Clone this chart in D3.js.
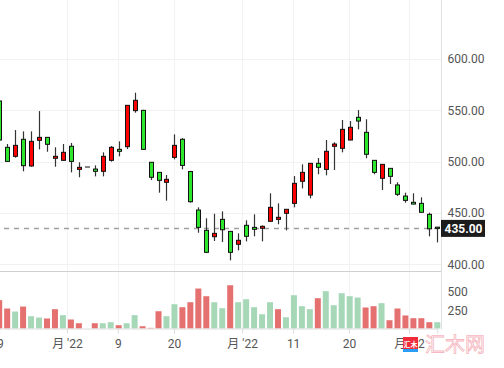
<!DOCTYPE html>
<html>
<head>
<meta charset="utf-8">
<script src="https://cdn.jsdelivr.net/npm/d3@7"></script>
<style>
	html, body { margin: 0; padding: 0; background: #fff; }
	#app { width: 504px; height: 368px; overflow: hidden; }
	text { font-family: Roboto, 'Noto Sans CJK SC', sans-serif; }
</style>
</head>
<body>
<div id="app"></div>
<script>
// daily candles, oldest first
const opens = [559.1, 514.0, 505.2, 521.8, 495.8, 520.8, 523.7, 503.3, 501.3, 515.0, 492.5, 494.8, 492.8, 490.6, 501.3, 512.0,
	514.6, 549.7, 550.0, 499.4, 489.6, 479.9, 504.2, 521.8, 490.4, 452.9, 433.1, 426.9, 443.8, 432.1, 419.5, 438.0,
	436.0, 435.1, 441.9, 443.8, 449.7, 459.4, 480.9, 467.5, 498.4, 492.5, 515.0, 513.0, 521.1, 543.2, 528.6, 501.3,
	483.8, 493.5, 477.3, 466.5, 460.4, 459.4, 448.7, 436.2];
const highs = [560.0, 517.2, 530.8, 529.5, 529.5, 549.3, 523.9, 514.0, 517.2, 518.2, 499.4, 494.8, 496.4, 509.1, 515.2, 519.8,
	554.9, 567.2, 550.5, 499.6, 489.8, 487.0, 526.6, 523.0, 491.0, 455.5, 444.8, 449.3, 451.6, 432.5, 430.2, 442.9,
	448.7, 438.0, 469.2, 459.4, 453.8, 486.0, 497.4, 498.6, 503.6, 521.1, 518.9, 540.6, 539.6, 550.3, 541.3, 501.5,
	497.6, 493.7, 479.9, 469.8, 469.2, 465.3, 450.3, 436.3];
const lows = [520.5, 499.7, 503.9, 490.6, 495.1, 512.0, 509.7, 495.1, 501.0, 489.6, 484.8, 494.8, 485.7, 485.7, 500.0, 505.2,
	512.3, 547.7, 511.5, 482.1, 469.8, 462.0, 502.3, 492.5, 460.0, 430.8, 411.0, 422.7, 421.7, 403.9, 413.6, 422.4,
	427.3, 422.4, 441.5, 439.0, 433.1, 455.5, 474.0, 464.3, 487.7, 486.7, 491.9, 509.1, 520.9, 531.5, 503.3, 487.7,
	472.4, 478.2, 466.5, 460.0, 458.5, 450.5, 427.3, 421.4];
const closes = [521.1, 500.3, 515.9, 496.1, 519.8, 523.7, 516.9, 505.2, 509.1, 500.3, 494.5, 494.8, 490.6, 505.2, 514.0, 510.1,
	554.9, 559.8, 512.0, 484.8, 481.8, 482.8, 515.9, 496.4, 461.0, 436.0, 411.7, 430.2, 433.7, 411.7, 423.4, 427.3,
	434.1, 437.0, 455.5, 445.8, 453.6, 478.9, 489.6, 498.4, 494.5, 510.1, 517.2, 531.5, 533.5, 539.6, 507.2, 489.6,
	497.4, 485.7, 468.2, 462.3, 458.7, 450.7, 434.6, 435.0];
const volumes = [387, 273, 232, 300, 168, 150, 137, 264, 182, 123, 72, 0, 72, 72, 86, 45,
	72, 182, 31, 9, 236, 168, 332, 291, 359, 546, 441, 359, 277, 591, 359, 400,
	291, 195, 359, 264, 154, 455, 305, 264, 414, 510, 318, 482, 441, 423, 287, 305,
	346, 113, 273, 178, 141, 141, 86, 86];
const prevClose = 530;
const lastPrice = 435.00;

// time axis marks, in candle index units
const dateTicks = [-0.35, 8.5, 14.9, 21.95, 30.5, 36.9, 43.9, 51.45];
const dateLabels = ['29', "月 '22", '9', '20', "月 '22", '11', '20', "月 '22"];
const priceTicks = [400, 450, 500, 550, 600];
const volumeTicks = [250, 500];

(function () {

	function init () {
		initGraph();
	}

	function initGraph () {

		let app = d3.select('#app'),
			outerWidth = 504,
			outerHeight = 368,
			plotRight = 441.5,
			priceBottom = 271,
			volBottom = 328.5,
			fontSize = 12;

		let svg = app.append('svg')
			.attr('width', outerWidth)
			.attr('height', outerHeight);

		let data = closes.map(function (c, i) {
			return {
				i: i,
				o: opens[i],
				h: highs[i],
				l: lows[i],
				c: c,
				v: volumes[i],
				prev: i === 0 ? prevClose : closes[i - 1]
			};
		});

		let x = d3.scaleLinear()
			.domain([0, data.length - 1])
			.range([-0.8, 437.3]);

		let y = d3.scaleLinear()
			.domain([393.5, 657.5])
			.range([priceBottom, 0]);

		let yv = d3.scaleLinear()
			.domain([0, 780])
			.range([volBottom, 271.4]);

		// grid
		svg.append('g')
			.attr('stroke', '#f2f2f2')
		.selectAll('line')
		.data(priceTicks)
		.enter().append('line')
			.attr('x1', 0)
			.attr('x2', plotRight)
			.attr('y1', function (d) { return Math.round(y(d)) + 0.5; })
			.attr('y2', function (d) { return Math.round(y(d)) + 0.5; });

		svg.append('g')
			.attr('stroke', '#f2f2f2')
		.selectAll('line')
		.data(dateTicks)
		.enter().append('line')
			.attr('x1', function (d) { return Math.round(x(d)) + 0.5; })
			.attr('x2', function (d) { return Math.round(x(d)) + 0.5; })
			.attr('y1', 0)
			.attr('y2', volBottom);

		// frame lines
		svg.append('line')
			.attr('x1', 0).attr('x2', plotRight)
			.attr('y1', priceBottom + 0.5).attr('y2', priceBottom + 0.5)
			.attr('stroke', '#d0d0d0');
		svg.append('line')
			.attr('x1', plotRight).attr('x2', plotRight)
			.attr('y1', 0).attr('y2', volBottom + 1)
			.attr('stroke', '#e0e0e0');

		// volume pane
		svg.append('g')
		.selectAll('rect')
		.data(data.filter(function (d) { return d.v > 0; }))
		.enter().append('rect')
			.attr('x', function (d) { return x(d.i) - 3; })
			.attr('width', 6)
			.attr('y', function (d) { return yv(d.v); })
			.attr('height', function (d) { return volBottom - yv(d.v); })
			.attr('fill', function (d) { return d.c >= d.prev ? '#a6d8b8' : '#e57070'; });

		let xAxis = svg.append('g')
			.attr('transform', 'translate(0,' + volBottom + ')')
			.call(d3.axisBottom(x)
				.tickValues(dateTicks)
				.tickFormat(function (d, i) { return dateLabels[i]; })
				.tickSize(5)
				.tickPadding(6));
		xAxis.select('.domain').attr('stroke', '#dcdcdc');
		xAxis.selectAll('.tick line').attr('stroke', '#dcdcdc');
		xAxis.selectAll('.tick text')
			.attr('fill', '#555')
			.attr('font-size', fontSize)
			.attr('font-family', "Roboto, 'Noto Sans CJK SC', sans-serif");

		let vAxis = svg.append('g')
			.attr('transform', 'translate(' + plotRight + ',0)')
			.call(d3.axisRight(yv).tickValues(volumeTicks).tickSize(0).tickPadding(6));
		vAxis.select('.domain').remove();
		vAxis.selectAll('.tick text')
			.attr('fill', '#555')
			.attr('font-size', fontSize)
			.attr('font-family', 'Roboto, sans-serif');

		let pAxis = svg.append('g')
			.attr('transform', 'translate(' + plotRight + ',0)')
			.call(d3.axisRight(y).tickValues(priceTicks).tickFormat(d3.format('.2f')).tickSize(0).tickPadding(6));
		pAxis.select('.domain').remove();
		pAxis.selectAll('.tick text')
			.attr('fill', '#555')
			.attr('font-size', fontSize)
			.attr('font-family', 'Roboto, sans-serif');

		// last price line
		svg.append('line')
			.attr('x1', 4).attr('x2', plotRight)
			.attr('y1', y(lastPrice)).attr('y2', y(lastPrice))
			.attr('stroke', '#a0a0a0')
			.attr('stroke-width', 1.5)
			.attr('stroke-dasharray', '5,5');

		// candles
		let candles = svg.append('g')
		.selectAll('g')
		.data(data)
		.enter().append('g');

		candles.append('line')
			.attr('x1', function (d) { return Math.round(x(d.i)) + 0.5; })
			.attr('x2', function (d) { return Math.round(x(d.i)) + 0.5; })
			.attr('y1', function (d) { return y(d.h); })
			.attr('y2', function (d) { return y(d.l); })
			.attr('stroke', '#333')
			.attr('stroke-width', 1.2);

		candles.filter(function (d) { return d.o !== d.c; })
		.append('rect')
			.attr('x', function (d) { return Math.round(x(d.i)) - 1.5; })
			.attr('width', 4)
			.attr('y', function (d) { return y(Math.max(d.o, d.c)); })
			.attr('height', function (d) { return Math.max(1, Math.abs(y(d.o) - y(d.c))); })
			.attr('fill', function (d) { return d.c > d.o ? '#ff0000' : '#2ee62e'; })
			.attr('stroke', '#111')
			.attr('stroke-width', 1);

		candles.filter(function (d) { return d.o === d.c; })
		.append('line')
			.attr('x1', function (d) { return Math.round(x(d.i)) - 2; })
			.attr('x2', function (d) { return Math.round(x(d.i)) + 3; })
			.attr('y1', function (d) { return y(d.c); })
			.attr('y2', function (d) { return y(d.c); })
			.attr('stroke', '#333')
			.attr('stroke-width', 1.2);

		// last price tag
		let tag = svg.append('g')
			.attr('transform', 'translate(' + plotRight + ',' + y(lastPrice) + ')');
		tag.append('rect')
			.attr('x', -0.5)
			.attr('y', -8.5)
			.attr('width', 44)
			.attr('height', 17)
			.attr('fill', '#1c1c1c');
		tag.append('text')
			.attr('x', 3)
			.attr('dy', '0.36em')
			.attr('fill', '#fff')
			.attr('font-size', fontSize)
			.attr('font-weight', 'bold')
			.text(d3.format('.2f')(lastPrice));

		// site watermark
		let mark = svg.append('g')
			.attr('transform', 'translate(403,337)');
		mark.append('rect')
			.attr('width', 15).attr('height', 12)
			.attr('fill', '#f02b3c');
		mark.append('rect')
			.attr('y', 12).attr('width', 15).attr('height', 3)
			.attr('fill', '#2a9df4');
		mark.append('text')
			.attr('x', 7.5).attr('y', 9.5)
			.attr('text-anchor', 'middle')
			.attr('font-size', 7)
			.attr('font-weight', 'bold')
			.attr('fill', '#fff')
			.text('汇木');
		svg.append('text')
			.attr('x', 425)
			.attr('y', 352)
			.attr('font-size', 20)
			.attr('font-family', "'Noto Sans CJK SC', sans-serif")
			.attr('fill', 'none')
			.attr('stroke', '#f5b8c0')
			.attr('stroke-width', 0.8)
			.text('汇木网');
	}

	init();
})();
</script>
</body>
</html>
